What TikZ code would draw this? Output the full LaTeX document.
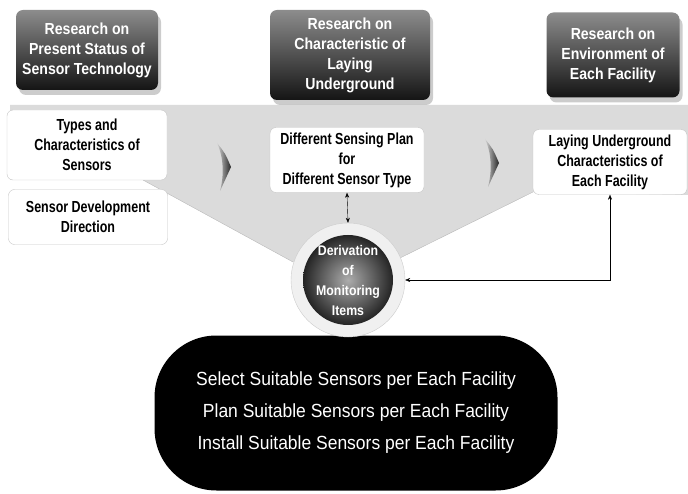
\documentclass[tikz,border=0pt]{standalone}
\usepackage{fontspec}
\setmainfont{Liberation Sans}[FakeStretch=0.78]
\newfontfamily\headfont{Liberation Sans}[FakeStretch=0.88]
\newfontfamily\pillfont{Liberation Sans}[FakeStretch=0.92]
\usetikzlibrary{shadows,arrows.meta}
\tikzset{
  headbox/.style={rounded corners=7pt, top color=black!45, bottom color=black!92,
    text=white, align=center, inner sep=0pt,
    font=\headfont\bfseries\fontsize{16}{20}\selectfont,
    drop shadow={opacity=0.4, shadow xshift=3pt, shadow yshift=-5pt}},
  textbox/.style={rounded corners=6pt, fill=white, draw=gray!45, align=center,
    inner sep=0pt, font=\bfseries\fontsize{16}{20}\selectfont},
  link/.style={{Stealth[length=5pt,width=4pt]}-{Stealth[length=5pt,width=4pt]}},
  chevron/.style={left color=gray!35, right color=black!85},
}

\begin{document}
\begin{tikzpicture}[x=1pt,y=-1pt]
        \useasboundingbox (0,0) rectangle (688,494);
        % funnel behind everything
        \fill[gray!28] (10,105) -- (688,105) -- (688,195) -- (533,192) -- (400,258)
              -- (293,262) -- (143,180) -- (10,180) -- cycle;
        \draw[gray!55] (143,180) -- (293,262);
        \draw[gray!55] (533,192) -- (400,258);
        \foreach \dx/\dy in {0/0, 268/-4}
        {
          \begin{scope}[shift={(\dx,\dy)}]
            \shade[chevron] (217,143) .. controls (225,153) .. (231,167)
                .. controls (226,179) .. (220,191) .. controls (224,176) and (224,158) .. (217,143);
          \end{scope}
        }
        % result
        \node[fill=black, rounded corners=62pt, minimum width=403, minimum height=155,
              text=white, align=center, font=\pillfont\fontsize{19}{32}\selectfont]
              (Result) at (356,413) {Select Suitable Sensors per Each Facility\\
              Plan Suitable Sensors per Each Facility\\Install Suitable Sensors per Each Facility};
        % monitoring items
        \node[circle, minimum size=114, fill=gray!12, draw=gray!40, text=white, align=center,
              font=\headfont\bfseries\fontsize{14}{20}\selectfont,
              path picture={\shade[inner color=gray!65, outer color=black]
                (path picture bounding box.center) circle (45pt);}]
              (Items) at (348,280) {Derivation\\of\\Monitoring\\Items};
        % headers
        \node[headbox, minimum width=142, minimum height=80] (StatusHead) at (87,50)
              {Research on\\Present Status of\\Sensor Technology};
        \node[headbox, minimum width=160, minimum height=90] (LayingHead) at (350,55)
              {Research on\\Characteristic of\\Laying\\Underground};
        \node[headbox, minimum width=133, minimum height=85] (EnvHead) at (613,55)
              {Research on\\Environment of\\Each Facility};
        % white boxes
        \node[textbox, minimum width=160, minimum height=70] (TypesBox) at (87,145)
              {Types and\\Characteristics of\\Sensors};
        \node[textbox, minimum width=159, minimum height=55] (DirBox) at (88,217)
              {Sensor Development\\Direction};
        \node[textbox, minimum width=154, minimum height=65] (PlanBox) at (347,160)
              {Different Sensing Plan\\for\\Different Sensor Type};
        \node[textbox, minimum width=154, minimum height=65] (FacBox) at (610,162)
              {Laying Underground\\Characteristics of\\Each Facility};
        % links
        \draw[link] (PlanBox.south) -- (Items.north);
        \draw[link] (Items.east) -| (FacBox.south);
\end{tikzpicture}
\end{document}
